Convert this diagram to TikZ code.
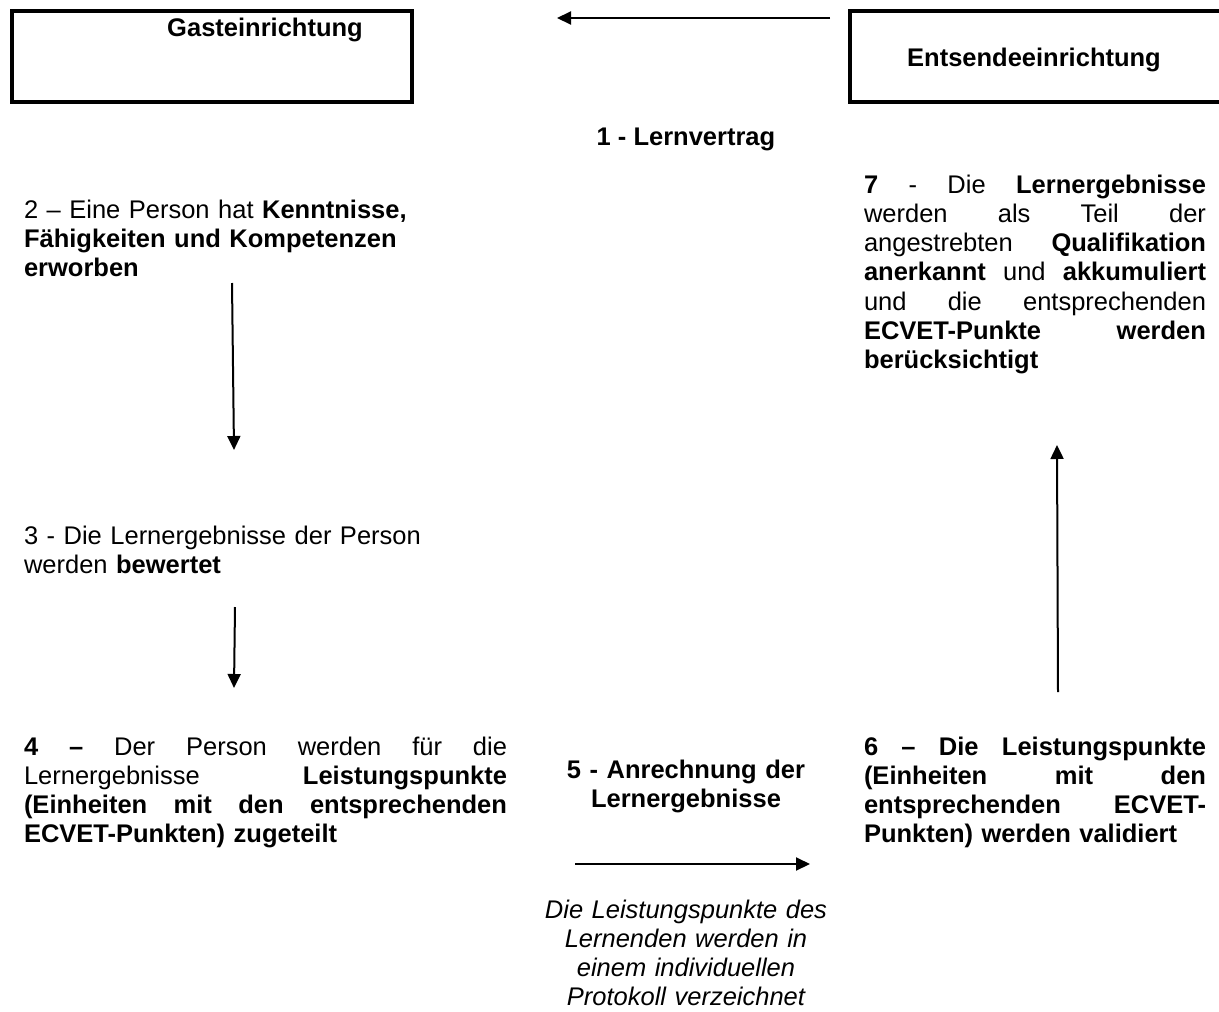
\documentclass[tikz,border=0pt]{standalone}
\usepackage{fontspec}
\setmainfont{Liberation Sans}
\usetikzlibrary{arrows.meta}
\newcommand\dfs{\fontsize{25.5}{29.3}\selectfont}
\newcommand\jl[1]{\makebox[\linewidth][s]{\spaceskip=0.28em plus 20em\xspaceskip=0pt\relax #1}}
\begin{document}
\begin{tikzpicture}[x=1pt,y=-1pt,
  txt/.style={inner sep=0pt, outer sep=0pt, font=\dfs},
  btxt/.style={inner sep=0pt, outer sep=0pt, font=\dfs\bfseries},
  box/.style={line width=3.5pt},
  arr/.style={line width=2pt, -{Triangle[length=14pt,width=13pt]}}]
\useasboundingbox (0,0) rectangle (1219,1012);
\clip (0,0) rectangle (1219,1012);
% boxes
\draw[box] (12,11) rectangle (412,102);
\draw[box] (850,11) rectangle (1240,102);
\node[btxt, anchor=base] (gast) at (265,36) {Gasteinrichtung};
\node[btxt, anchor=base] (ents) at (1034,66) {Entsendeeinrichtung};
\node[btxt, anchor=base] (lv) at (686,145) {1 - Lernvertrag};
% texts
\node[txt, anchor=base west, text width=420pt, align=left] (t2) at (24,218)
  {2 – Eine Person hat \textbf{Kenntnisse,}\\
   \textbf{Fähigkeiten und Kompetenzen}\\
   \textbf{erworben}};
\node[txt, anchor=base west, text width=420pt, align=left] (t3) at (24,544)
  {3 - Die Lernergebnisse der Person\\
   werden \textbf{bewertet}};
\node[txt, anchor=base west, text width=483pt, align=left] (t4) at (24,755)
  {\jl{\textbf{4 –} Der Person werden für die}\\
   \jl{Lernergebnisse \textbf{Leistungspunkte}}\\
   \jl{\textbf{(Einheiten mit den entsprechenden}}\\
   \textbf{ECVET-Punkten) zugeteilt}};
\node[btxt, anchor=base, text width=300pt, align=center] (t5) at (686,778)
  {5 - Anrechnung der\\ Lernergebnisse};
\node[txt, anchor=base, text width=320pt, align=center, font=\dfs\itshape] (t5b) at (686,918)
  {Die Leistungspunkte des\\ Lernenden werden in\\ einem individuellen\\ Protokoll verzeichnet};
\node[btxt, anchor=base west, text width=342pt, align=left] (t6) at (864,755)
  {\jl{6 – Die Leistungspunkte}\\
   \jl{(Einheiten mit den}\\
   \jl{entsprechenden ECVET-}\\
   Punkten) werden validiert};
\node[txt, anchor=base west, text width=342pt, align=left] (t7) at (864,193)
  {\jl{\textbf{7} - Die \textbf{Lernergebnisse}}\\
   \jl{werden als Teil der}\\
   \jl{angestrebten \textbf{Qualifikation}}\\
   \jl{\textbf{anerkannt} und \textbf{akkumuliert}}\\
   \jl{und die entsprechenden}\\
   \jl{\textbf{ECVET-Punkte werden}}\\
   \textbf{berücksichtigt}};
% connectors
\coordinate (a1s) at (830,18);  \coordinate (a1e) at (557,18);
\coordinate (a2s) at (232,283); \coordinate (a2e) at (234,450);
\coordinate (a3s) at (235,607); \coordinate (a3e) at (234,688);
\coordinate (a5s) at (575,864); \coordinate (a5e) at (810,864);
\coordinate (a6s) at (1058,692); \coordinate (a6e) at (1057,445);
\draw[arr] (a1s) -- (a1e);
\draw[arr] (a2s) -- (a2e);
\draw[arr] (a3s) -- (a3e);
\draw[arr] (a5s) -- (a5e);
\draw[arr] (a6s) -- (a6e);
\end{tikzpicture}
\end{document}
